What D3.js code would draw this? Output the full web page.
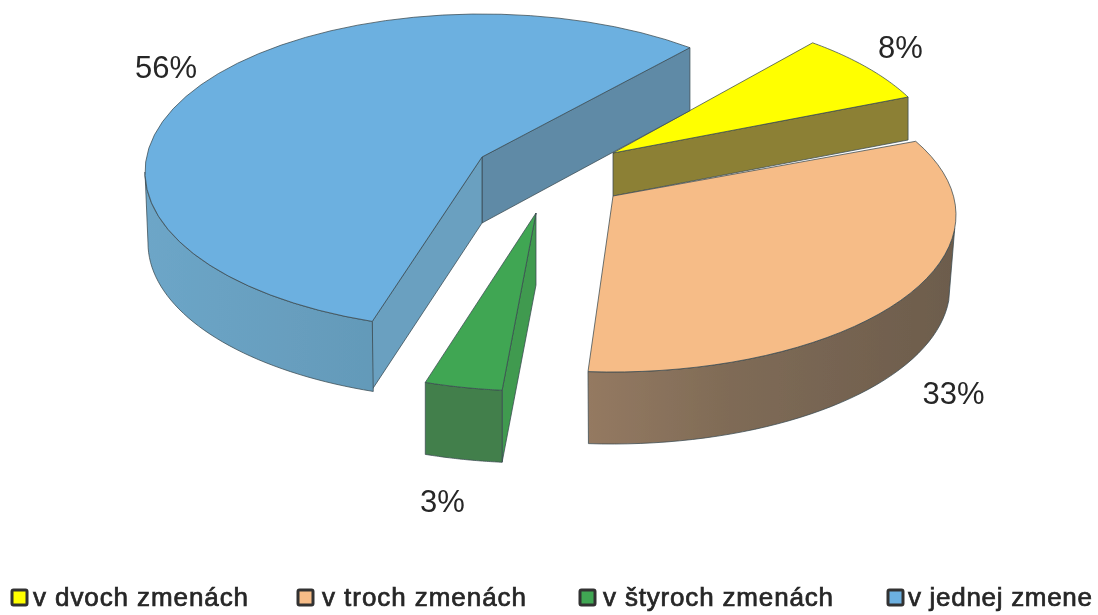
<!DOCTYPE html>
<html><head><meta charset="utf-8">
<script src="https://cdn.jsdelivr.net/npm/d3@7"></script>
<style>html,body{margin:0;background:#fff}svg{display:block}text{font-family:"Liberation Sans",Arial,sans-serif;fill:#262626}</style>
</head><body><svg id="c" width="1098" height="615"></svg>
<script>
const categories = ["v dvoch zmenách","v troch zmenách","v štyroch zmenách","v jednej zmene"];
const shares = [8,33,3,56];
const labels = ["8%","33%","3%","56%"];
const topColors = ["#ffff00","#f6bc87","#41a653","#6cb0e0"];
const rad = Math.PI/180;
// per-slice 3D layout: ellipse of the top rim, of the bottom rim, apex, perspective angle fixes
const layout = [
 {c:[607,168],r:[337,158],bc:[607,209],br:[337,158],apex:[613,153],depth:43,fix:[-3,-6.1],wall:null,
  faces:[{edge:"end",fill:"#8c8036",rim:43}]},
 {c:[612,215],r:[344,157],bc:[612,287],br:[338,157],apex:[613,196],depth:0,fix:[-7.4,-4.2],wall:[95,"end","url(#gPeach)"],faces:[]},
 {c:[535,233],r:[337,158],bc:[535,305],br:[337,158],apex:[536,213],depth:72,fix:[-2.6,0],wall:["start","end","#437f4c"],
  faces:[{edge:"start",fill:"#3f9a50",rim:72}]},
 {c:[482,172],r:[337,158],bc:[482,243],br:[334,157],apex:[482,157],depth:66,fix:[0,-2.5],wall:[270,"start","url(#gBlue)"],
  faces:[{edge:"end",fill:"#5f8aa6",rim:63},{edge:"start",fill:"#6aa0c0",rim:68}]}
];
const labelPos = [[900.5,58],[953.5,404],[442.5,512],[166,78]];
const legendX = [[12,33,215],[298,322,204],[580,603,230],[888,908,184]];

const svg = d3.select("#c");
const defs = svg.append("defs");
defs.append("filter").attr("id","soft").append("feGaussianBlur").attr("stdDeviation",0.45);
function grad(id,stops){const g=defs.append("linearGradient").attr("id",id).attr("gradientUnits","userSpaceOnUse").attr("x1",140).attr("x2",960).attr("y1",0).attr("y2",0);
 stops.forEach(s=>g.append("stop").attr("offset",s[0]).attr("stop-color",s[1]));}
grad("gPeach",[[0.54,"#957a62"],[0.72,"#7f6b56"],[1,"#6c5c4c"]]);
grad("gBlue",[[0,"#6da6c8"],[0.3,"#6399b8"]]);

const pie = d3.pie().value(d=>d).sort(null).startAngle(40.6*rad).endAngle((360+40.6)*rad);
const arcs = pie(shares);
const g = svg.append("g").attr("filter","url(#soft)");
const line = d3.line();
const pt=(c,r,t)=>[c[0]+r[0]*Math.sin(t),c[1]-r[1]*Math.cos(t)];
const sweep=(c,r,a,b)=>d3.range(0,41).map(i=>pt(c,r,a+(b-a)*i/40));
const stroke="#3a4a50";

// draw order: yellow, blue, green, peach (back to front)
[0,3,2,1].forEach(i=>{
 const s=layout[i],a=arcs[i];
 const t0=a.startAngle+s.fix[0]*rad,t1=a.endAngle+s.fix[1]*rad;
 const pick=v=>v==="start"?t0:v==="end"?t1:v*rad;
 const shape=(pts,fill,w)=>g.append("path").attr("d",line(pts)+"Z").attr("fill",fill)
   .attr("stroke",stroke).attr("stroke-width",w||1).attr("stroke-opacity",.75).attr("stroke-linejoin","round");
 // flat radial side faces
 s.faces.forEach(f=>{
   const t=f.edge==="start"?t0:t1;
   const A=s.apex,P=pt(s.c,s.r,t);
   shape([A,P,[P[0],P[1]+f.rim],[A[0],A[1]+s.depth]],f.fill);
 });
 // curved outer wall
 if(s.wall){
   const from=pick(s.wall[0]),to=pick(s.wall[1]);
   shape(sweep(s.c,s.r,from,to).concat(sweep(s.bc,s.br,to,from)),s.wall[2]);
 }
 // top
 shape([s.apex].concat(sweep(s.c,s.r,t0,t1)),topColors[i]);
});

// percentage labels
labels.forEach((t,i)=>g.append("text").attr("x",labelPos[i][0]).attr("y",labelPos[i][1])
  .attr("text-anchor","middle").attr("font-size",31).text(t));

// legend
categories.forEach((t,i)=>{
  const [mx,tx,w]=legendX[i];
  g.append("rect").attr("x",mx).attr("y",590).attr("width",15).attr("height",15).attr("rx",1.5)
   .attr("fill",topColors[i]).attr("stroke","#333").attr("stroke-width",3);
  g.append("text").attr("x",tx).attr("y",606).attr("font-size",26).attr("stroke","#262626").attr("stroke-width",.7)
   .attr("textLength",w).attr("lengthAdjust","spacing").text(t);
});
</script></body></html>
